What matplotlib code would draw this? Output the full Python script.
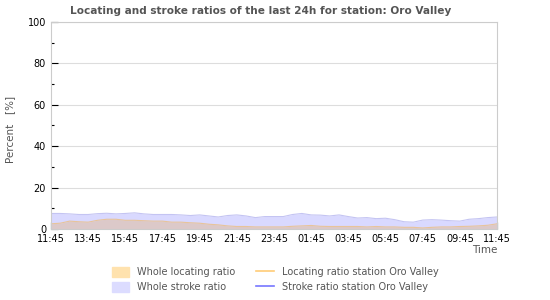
import numpy as np
import matplotlib
matplotlib.use('Agg')
import matplotlib.pyplot as plt
from matplotlib.patches import Patch
from matplotlib.lines import Line2D

# values every 30 minutes, from 11:45 to 11:45 next day
stroke_ratio = [7.5, 7.5, 7.3, 7.0, 7.0, 7.4, 7.6, 7.3, 7.5, 7.8, 7.3, 7.0, 7.0,
                7.0, 6.8, 6.5, 6.8, 6.3, 5.8, 6.5, 6.8, 6.3, 5.5, 6.0, 6.0,
                6.0, 7.0, 7.5, 6.8, 6.7, 6.3, 6.8, 6.0, 5.3, 5.5, 5.0, 5.2,
                4.5, 3.5, 3.3, 4.3, 4.5, 4.3, 4.0, 3.8, 4.7, 5.0, 5.5, 5.8]
locating_ratio = [2.5, 2.8, 3.8, 3.5, 3.3, 4.2, 4.7, 4.7, 4.2, 4.2, 4.0, 3.8, 3.8,
                  3.3, 3.3, 3.0, 2.8, 2.3, 2.0, 1.5, 1.2, 1.2, 1.0, 1.0, 1.0,
                  1.0, 1.3, 1.5, 1.7, 1.3, 1.2, 1.2, 1.2, 1.2, 1.0, 1.2, 1.0,
                  1.0, 0.8, 0.8, 0.5, 0.8, 1.0, 1.0, 1.2, 1.3, 1.5, 1.8, 2.5]
time_labels = ['11:45', '13:45', '15:45', '17:45', '19:45', '21:45', '23:45',
               '01:45', '03:45', '05:45', '07:45', '09:45', '11:45']

hours = np.arange(len(stroke_ratio)) * 0.5
gray = '#555555'

fig = plt.figure(figsize=(5.5, 3), dpi=100)
ax = fig.add_axes([0.0927, 0.2367, 0.8109, 0.69])

ax.fill_between(hours, stroke_ratio, color='#d9d9ff', lw=0)
ax.fill_between(hours, locating_ratio, color='#dcc9c9', lw=0)
ax.plot(hours, stroke_ratio, color='#c4c4f2', lw=0.8)
ax.plot(hours, locating_ratio, color='#e8c49a', lw=0.8)

ax.set_xlim(0, 24)
ax.set_ylim(0, 100)
ax.set_xticks(np.arange(0, 25, 2))
ax.set_xticklabels(time_labels)
ax.set_xticks(np.arange(0, 24.1, 0.5), minor=True)
ax.set_yticks(np.arange(0, 101, 20))
ax.set_yticks(np.arange(0, 101, 10), minor=True)
ax.tick_params(axis='both', which='major', direction='in', length=5, width=0.8,
               labelsize=7, color='black')
ax.tick_params(axis='both', which='minor', direction='in', length=2.5, width=0.8,
               color='black')
ax.grid(axis='y', which='major', color='#dddddd', lw=0.8)
ax.set_axisbelow(True)
for s in ax.spines.values():
    s.set_color('#cccccc')
    s.set_linewidth(0.8)

fig.text(0.4745, 0.965, 'Locating and stroke ratios of the last 24h for station: Oro Valley',
         ha='center', va='center', fontsize=7.6, fontweight='bold', color=gray)
fig.text(0.018, 0.567, 'Percent   [%]', rotation=90, ha='center', va='center',
         fontsize=7.5, color=gray)
fig.text(0.905, 0.168, 'Time', ha='right', va='center', fontsize=7.5, color=gray)

handles = [Patch(color='#ffe2ae'), Patch(color='#dcdcff'),
           Line2D([], [], color='#ffcc77', lw=1.2), Line2D([], [], color='#7777ff', lw=1.2)]
labels = ['Whole locating ratio', 'Whole stroke ratio',
          'Locating ratio station Oro Valley', 'Stroke ratio station Oro Valley']
leg = fig.legend(handles, labels, ncol=2, loc='center', bbox_to_anchor=(0.5, 0.068),
                 frameon=False, fontsize=7, handlelength=1.8, columnspacing=2.2,
                 labelcolor=gray, handleheight=1.2, labelspacing=0.5)

fig.savefig('out.png', dpi=100)
